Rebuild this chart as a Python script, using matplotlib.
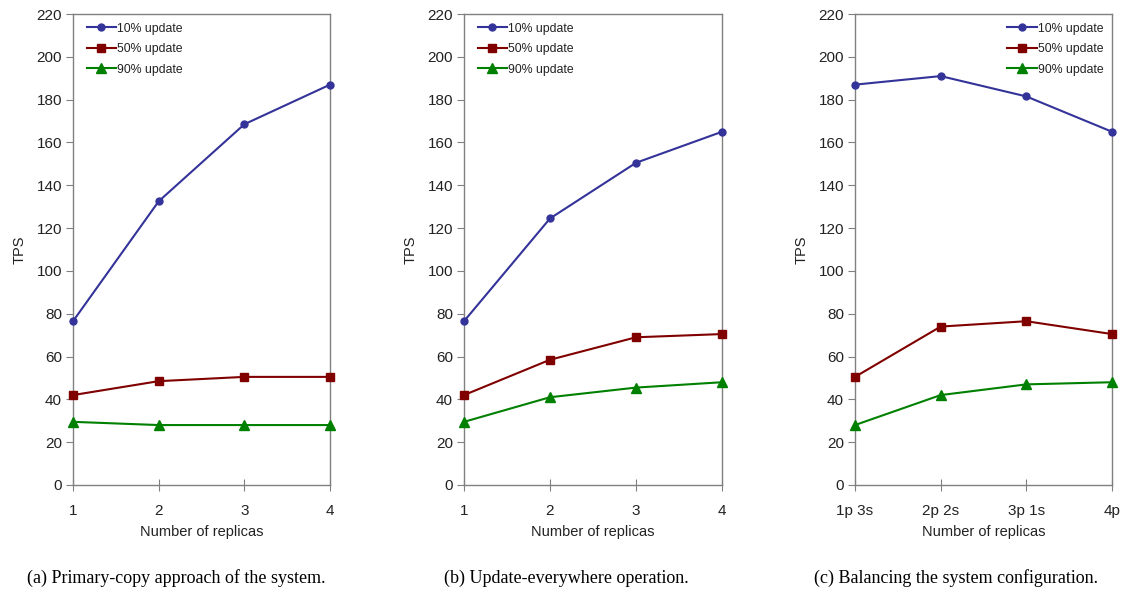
import matplotlib
matplotlib.use("Agg")
import matplotlib.pyplot as plt

# ---- data ----
replicas_ab = ["1", "2", "3", "4"]
replicas_c = ["1p 3s", "2p 2s", "3p 1s", "4p"]
series_names = ["10% update", "50% update", "90% update"]

a_10 = [76.5, 132.5, 168.5, 187.0]
a_50 = [42.0, 48.5, 50.5, 50.5]
a_90 = [29.5, 28.0, 28.0, 28.0]

b_10 = [76.5, 124.5, 150.5, 165.0]
b_50 = [42.0, 58.5, 69.0, 70.5]
b_90 = [29.5, 41.0, 45.5, 48.0]

c_10 = [187.0, 191.0, 181.5, 165.0]
c_50 = [50.5, 74.0, 76.5, 70.5]
c_90 = [28.0, 42.0, 47.0, 48.0]

yticks = [0, 20, 40, 60, 80, 100, 120, 140, 160, 180, 200, 220]
captions = ["(a) Primary-copy approach of the system.",
            "(b) Update-everywhere operation.",
            "(c) Balancing the system configuration."]

colors = ["#333399", "#800000", "#008000"]
markers = ["o", "s", "^"]
msizes = [5, 6, 7]

W, H = 1122, 594
fig = plt.figure(figsize=(W / 100, H / 100), dpi=100)
plt.rcParams['font.family'] = ['Liberation Sans', 'DejaVu Sans']

panels = [
    (73, 330, replicas_ab, [a_10, a_50, a_90], 'upper left', 176),
    (464, 722, replicas_ab, [b_10, b_50, b_90], 'upper left', 566),
    (855, 1112, replicas_c, [c_10, c_50, c_90], 'upper right', 956),
]
top_px, bot_px = 14, 485
gray = "#808080"
tc = '#222222'

for i, (l, r, cats, data, loc, capx) in enumerate(panels):
    ax = fig.add_axes([l / W, 1 - bot_px / H, (r - l) / W, (bot_px - top_px) / H])
    x = list(range(len(cats)))
    for s, (vals, name) in enumerate(zip(data, series_names)):
        ax.plot(x, vals, color=colors[s], marker=markers[s], ms=msizes[s],
                lw=1.5, label=name, clip_on=False, zorder=3)
    ax.set_xlim(0, len(cats) - 1)
    ax.set_ylim(0, 220)
    ax.set_yticks(yticks)
    ax.set_xticks(x)
    ax.set_xticklabels(cats)
    for sp in ax.spines.values():
        sp.set_color(gray)
        sp.set_linewidth(1.0)
    ax.tick_params(axis='y', direction='out', length=5, color=gray,
                   labelsize=11, labelcolor=tc, pad=3)
    ax.tick_params(axis='x', direction='inout', length=8, color=gray,
                   labelsize=11, labelcolor=tc, pad=10)
    ax.set_ylabel("TPS", fontsize=10.5, color=tc, labelpad=7)
    ax.set_xlabel("Number of replicas", fontsize=10.5, color=tc, labelpad=5)
    if loc == 'upper left':
        leg = ax.legend(loc='upper left', bbox_to_anchor=(0.02, 1.0), frameon=False,
                        fontsize=8.8, handlelength=2.4, handletextpad=0.1,
                        labelspacing=0.7, borderaxespad=0.3)
    else:
        leg = ax.legend(loc='upper right', bbox_to_anchor=(1.0, 1.0), frameon=False,
                        fontsize=8.8, handlelength=2.4, handletextpad=0.1,
                        labelspacing=0.7, borderaxespad=0.3)
    for t in leg.get_texts():
        t.set_color(tc)
    fig.text(capx / W, 1 - 578 / H, captions[i], ha='center', va='center',
             fontsize=13, family=['Liberation Serif', 'DejaVu Serif'])

fig.savefig("out.png", dpi=100)
